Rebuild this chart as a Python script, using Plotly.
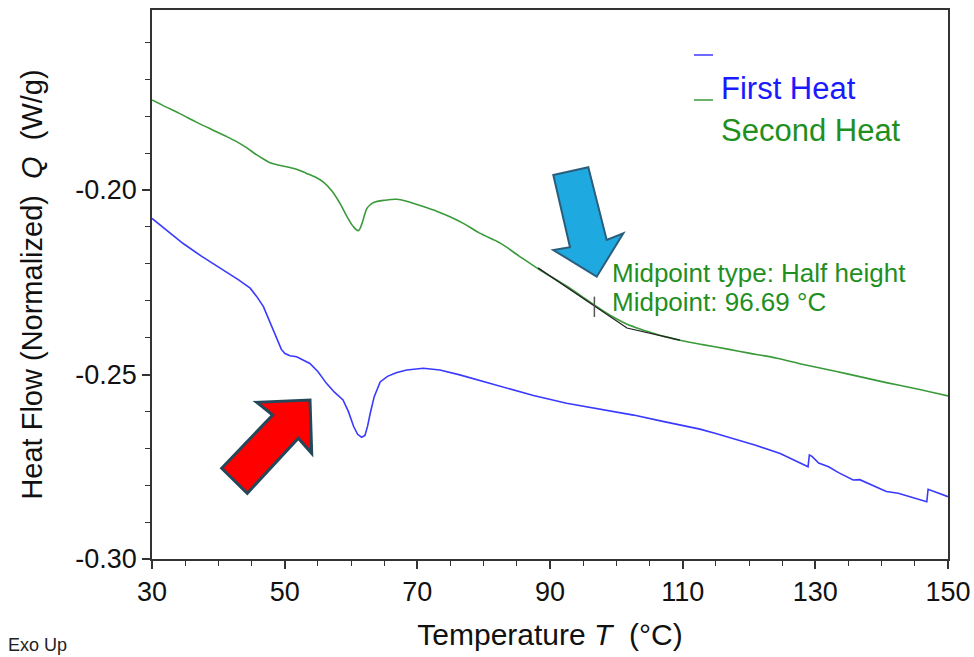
import plotly.graph_objects as go

# ---------------- data ----------------
T_second = [30.0, 32.0, 34.2, 36.7, 39.0, 41.0, 42.75, 44.3, 45.8, 47.0, 47.8, 49.0, 50.8, 52.0, 53.3,
            54.6, 55.8, 57.1, 58.3, 59.4, 60.35, 61.1, 61.6, 62.0, 62.4, 62.9, 63.4, 65.0, 66.9, 68.5,
            70.9, 73.0, 75.0, 77.0, 79.4, 82.5, 85.5, 88.5, 91.0, 93.0, 95.0, 96.9, 98.5, 100.0, 101.3,
            103.0, 105.0, 107.0, 109.6, 113.0, 117.0, 120.0, 124.2, 128.0, 133.2, 136.0, 140.7, 145.0, 150.0]
Q_second = [-0.1756, -0.1774, -0.1793, -0.1816, -0.1836, -0.1853, -0.1869, -0.1886, -0.1905, -0.1918, -0.1926, -0.1932, -0.1939, -0.1945, -0.1955,
            -0.1965, -0.1978, -0.2002, -0.2035, -0.2072, -0.2099, -0.2110, -0.2094, -0.2070, -0.2050, -0.2040, -0.2034, -0.2028, -0.2025, -0.2031,
            -0.2045, -0.2058, -0.2073, -0.2091, -0.2117, -0.2144, -0.2181, -0.2217, -0.2244, -0.2266, -0.2291, -0.2314, -0.2333, -0.2349, -0.2361,
            -0.2373, -0.2385, -0.2396, -0.2407, -0.2419, -0.2432, -0.2442, -0.2456, -0.2472, -0.2492, -0.2503, -0.2522, -0.2538, -0.2558]

T_first = [30.0, 32.5, 34.7, 37.5, 40.75, 43.0, 44.8, 45.8, 46.8, 47.8, 48.8, 49.5, 50.05, 50.8, 51.8,
           52.8, 53.8, 55.0, 56.3, 57.5, 58.8, 59.6, 60.4, 61.0, 61.6, 62.1, 62.5, 62.9, 63.5, 64.4,
           65.5, 66.8, 68.4, 70.9, 73.4, 76.4, 79.5, 82.5, 87.5, 92.5, 97.5, 102.6, 107.0, 109.6, 112.6,
           115.0, 117.6, 121.0, 124.7, 127.0, 128.9, 129.1, 129.5, 130.5, 131.2, 132.0, 133.5, 135.7, 136.7,
           138.0, 140.7, 142.5, 144.5, 146.8, 147.0, 148.0, 150.0]
Q_first = [-0.2077, -0.2112, -0.2145, -0.2180, -0.2217, -0.2243, -0.2266, -0.2289, -0.2316, -0.2359, -0.2398, -0.2432, -0.2443, -0.2449, -0.2452,
           -0.2460, -0.2470, -0.2492, -0.2524, -0.2548, -0.2569, -0.2600, -0.2641, -0.2662, -0.2670, -0.2665, -0.2640, -0.2605, -0.2560, -0.2520,
           -0.2505, -0.2495, -0.2488, -0.2483, -0.2488, -0.2501, -0.2517, -0.2533, -0.2557, -0.2578, -0.2594, -0.2610, -0.2627, -0.2637, -0.2648,
           -0.2660, -0.2673, -0.2692, -0.2714, -0.2733, -0.2750, -0.2718, -0.2722, -0.2740, -0.2745, -0.2750, -0.2766, -0.2786, -0.2785,
           -0.2795, -0.2817, -0.2822, -0.2833, -0.2845, -0.2811, -0.2818, -0.2831]

T_tangent = [88.2, 101.6, 109.6]
Q_tangent = [-0.2211, -0.2374, -0.2407]

T_mid = [96.69, 96.69]
Q_mid = [-0.2289, -0.2344]

y_tickvals = [-0.30, -0.25, -0.20]
y_ticktext = ["-0.30", "-0.25", "-0.20"]
x_tickvals = [30, 50, 70, 90, 110, 130, 150]
x_ticktext = ["30", "50", "70", "90", "110", "130", "150"]

legend_names = ["First Heat", "Second Heat"]
midpoint_lines = ["Midpoint type: Half height", "Midpoint: 96.69 °C"]

# ---------------- layout helpers ----------------
W, H = 974, 657
L, R, TOP, BOT = 152, 948, 10, 559
FONT = "Liberation Sans, Arial, sans-serif"


def px(x):
    return (x - L) / (R - L)


def py(y):
    return (BOT - y) / (BOT - TOP)


def path(points):
    return "M " + " L ".join(f"{px(a):.5f},{py(b):.5f}" for a, b in points) + " Z"


BLUE = "#3a3aff"
GREEN = "#3a9a3a"

fig = go.Figure()
fig.add_trace(go.Scatter(x=T_second, y=Q_second, mode="lines", name=legend_names[1],
                         line=dict(color=GREEN, width=1.6), line_shape="spline"))
fig.add_trace(go.Scatter(x=T_first, y=Q_first, mode="lines", name=legend_names[0],
                         line=dict(color=BLUE, width=1.6)))
fig.add_trace(go.Scatter(x=T_tangent, y=Q_tangent, mode="lines", line=dict(color="#222222", width=1.3)))
fig.add_trace(go.Scatter(x=T_mid, y=Q_mid, mode="lines", line=dict(color="#555555", width=1.5)))

red_arrow = [(221.7, 468.3), (272.7, 415.0), (256.7, 402.3), (310.0, 400.0),
             (311.7, 453.3), (298.3, 438.3), (247.3, 493.3)]
blue_arrow = [(553.3, 175.0), (588.3, 167.3), (606.7, 240.0), (623.3, 233.3),
              (596.7, 276.7), (553.3, 250.0), (570.0, 247.3)]

shapes = [
    dict(type="path", xref="paper", yref="paper", path=path(red_arrow),
         fillcolor="#ff0000", line=dict(color="#24485a", width=3)),
    dict(type="path", xref="paper", yref="paper", path=path(blue_arrow),
         fillcolor="#1fa9e1", line=dict(color="#2b5e7c", width=2)),
    dict(type="line", xref="paper", yref="paper", x0=px(694), x1=px(713), y0=py(55), y1=py(55),
         line=dict(color=BLUE, width=1.5)),
    dict(type="line", xref="paper", yref="paper", x0=px(694), x1=px(713), y0=py(100), y1=py(100),
         line=dict(color=GREEN, width=1.5)),
]

annotations = [
    dict(text=legend_names[0], xref="paper", yref="paper", x=px(719), y=py(88), xanchor="left",
         yanchor="middle", showarrow=False, font=dict(family=FONT, size=31, color="#1a1aff")),
    dict(text=legend_names[1], xref="paper", yref="paper", x=px(719), y=py(131), xanchor="left",
         yanchor="middle", showarrow=False, font=dict(family=FONT, size=31, color="#1f8f1f")),
    dict(text=midpoint_lines[0], xref="paper", yref="paper", x=px(610), y=py(273), xanchor="left",
         yanchor="middle", showarrow=False, font=dict(family=FONT, size=26, color="#1f8f1f")),
    dict(text=midpoint_lines[1], xref="paper", yref="paper", x=px(610), y=py(302), xanchor="left",
         yanchor="middle", showarrow=False, font=dict(family=FONT, size=26, color="#1f8f1f")),
    dict(text="Exo Up", xref="paper", yref="paper", x=px(6), y=py(645), xanchor="left",
         yanchor="middle", showarrow=False, font=dict(family=FONT, size=18, color="#222222")),
]

fig.update_layout(
    width=W, height=H,
    margin=dict(l=L, r=W - R, t=TOP, b=H - BOT, autoexpand=False),
    paper_bgcolor="white", plot_bgcolor="white",
    showlegend=False,
    shapes=shapes, annotations=annotations,
    font=dict(family=FONT, color="#111111"),
)

fig.update_xaxes(
    range=[30, 150], tickvals=x_tickvals, ticktext=x_ticktext,
    ticks="outside", ticklen=8, tickwidth=1.5, tickcolor="#333333",
    minor=dict(dtick=5, tick0=30, ticks="outside", ticklen=5, tickwidth=1.2, tickcolor="#333333"),
    showline=True, linecolor="#333333", linewidth=1.5, mirror=True,
    showgrid=False, zeroline=False,
    tickfont=dict(family=FONT, size=27, color="#111111"),
    title=dict(text="Temperature <i>T</i>  (°C)", font=dict(family=FONT, size=30, color="#111111"), standoff=18),
)
fig.update_yaxes(
    range=[-0.30, -0.15122], tickvals=y_tickvals, ticktext=y_ticktext,
    ticks="outside", ticklen=8, tickwidth=1.5, tickcolor="#333333",
    minor=dict(dtick=0.01, tick0=-0.30, ticks="outside", ticklen=5, tickwidth=1.2, tickcolor="#333333"),
    showline=True, linecolor="#333333", linewidth=1.5, mirror=True,
    showgrid=False, zeroline=False,
    tickfont=dict(family=FONT, size=27, color="#111111"),
    title=dict(text="Heat Flow (Normalized)  <i>Q</i>  (W/g)", font=dict(family=FONT, size=29, color="#111111"), standoff=24),
)

fig.write_html("out.html")
